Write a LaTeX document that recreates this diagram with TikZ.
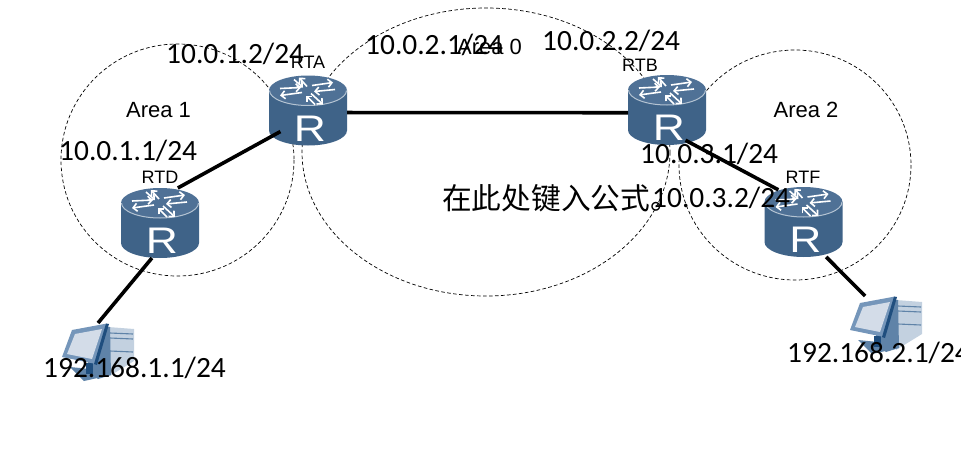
\documentclass[tikz,border=0pt]{standalone}
\usepackage{fontspec}
\setmainfont{Liberation Sans}
\newfontfamily\calibrifont{Carlito}
\newfontfamily\cjkfont{Noto Sans CJK SC}
\usetikzlibrary{arrows.meta}
\definecolor{rbody}{HTML}{3F6388}
\definecolor{rtop}{HTML}{4F7196}
\definecolor{rrim}{HTML}{B4C3D2}
\definecolor{hdark}{HTML}{1F4E7E}
\definecolor{hframe}{HTML}{7596BA}
\definecolor{hscreen}{HTML}{D3DCE8}
\definecolor{hside}{HTML}{5F83A8}
\definecolor{hfront}{HTML}{C3D1E0}
\tikzset{
  x=1pt,y=-1pt,
  area/.style={draw=black,line width=0.7pt,dash pattern=on 3.6pt off 2.4pt},
  link/.style={draw=black,line width=3.6pt},
  devicebox/.style={minimum width=78pt,minimum height=70pt,inner sep=0pt,outer sep=0pt},
  hostbox/.style={minimum width=72pt,minimum height=62pt,inner sep=0pt,outer sep=0pt},
  iplabel/.style={anchor=west,inner sep=0pt,font=\calibrifont\fontsize{29.4}{29.4}\selectfont},
  arealabel/.style={anchor=center,inner sep=0pt,font=\fontsize{22}{22}\selectfont},
  namelabel/.style={anchor=center,inner sep=0pt,font=\fontsize{18}{18}\selectfont},
  rarrow/.style={draw=white,line width=1.6pt,-{Straight Barb[length=4pt,width=8pt]}},
  pics/routericon/.style={code={
    \fill[rbody] (-39,-20) -- (-39,20) arc[start angle=180,end angle=0,x radius=39,y radius=15] -- (39,-20) -- cycle;
    \fill[rtop] (0,-20) ellipse[x radius=39,y radius=15];
    \draw[rrim,line width=1pt] (-38.5,-20) arc[start angle=180,end angle=0,x radius=38.5,y radius=15];
    \draw[rarrow] (-1,-24) -- (-9,-33);
    \draw[rarrow] (-14,-31) -- (-5,-23);
    \draw[rarrow] (4,-25) -- (25,-28);
    \draw[rarrow] (27,-21) -- (6,-19);
    \draw[rarrow] (3,-17) -- (15,-6);
    \draw[rarrow] (7,-6) -- (-2,-15);
    \draw[rarrow] (-6,-18) -- (-28,-15);
    \draw[rarrow] (-28,-22) -- (-7,-23);
    \node[text=white,inner sep=0pt,xscale=1.2,font=\fontsize{37}{37}\selectfont] at (2,18) {R};
  }},
  pics/hosticon/.style={code={
    % tower
    \fill[hfront] (46,4) -- (72,6) -- (72,38) -- (46,54) -- cycle;
    \fill[hside] (38,3) -- (48,4) -- (49,52) -- (36,56) -- (24,46) -- cycle;
    \draw[hside,line width=1.1pt] (48,10) -- (71,11) (48,15) -- (71,16) (48,28) -- (71,29);
    % stand
    \fill[hside] (8,44) -- (38,47) -- (40,54) -- (22,58) -- cycle;
    \fill[hdark] (24,40) -- (31,40) -- (31,51) -- (24,51) -- cycle;
    % monitor
    \fill[hframe] (10,7) -- (45,0.5) -- (34,41) -- (0,34) -- cycle;
    \fill[hdark] (44,0.5) -- (47,1) -- (35,42) -- (32,41) -- cycle;
    \fill[hscreen] (13,11) -- (40,6) -- (30,36) -- (5,31) -- cycle;
  }}
}
\begin{document}
\begin{tikzpicture}
\clip (0,0) rectangle (961,466);
\fill[white] (0,0) rectangle (961,466);
% areas
\draw[area] (177.5,160) ellipse[x radius=116.5,y radius=116];
\draw[area] (486,152) ellipse[x radius=184,y radius=144];
\draw[area] (795,165) ellipse[x radius=116,y radius=115];
% devices
\node[devicebox] (rta) at (308,110.5) {};
\node[devicebox] (rtb) at (667,110) {};
\node[devicebox] (rtd) at (160,223) {};
\node[devicebox] (rtf) at (803.5,222) {};
\node[hostbox] (hostd) at (98,354) {};
\node[hostbox] (hostf) at (886,327) {};
\pic at (rta) {routericon};
\pic at (rtb) {routericon};
\pic at (rtd) {routericon};
\pic at (rtf) {routericon};
% links
\draw[link] (rta.-3.7) -- (rtb.184.5);
\draw[link,shorten >=-13pt] (rtd.63) -- (rta.215);
\draw[link] (rtd.257) -- (hostd.north);
\draw[link,shorten <=-10pt,shorten >=-6pt] (rtb.-52) -- (rtf.131.5);
\draw[link] (rtf.-57) -- (hostf.124);
\pic at (hostd.north west) {hosticon};
\pic at (hostf.north west) {hosticon};
% labels
\node[namelabel] (lrta) at (308,62) {RTA};
\node[namelabel] (lrtb) at (640,65) {RTB};
\node[namelabel] (lrtd) at (160,177) {RTD};
\node[namelabel] (lrtf) at (803,177) {RTF};
\node[arealabel] (a0) at (489.5,47) {Area 0};
\node[arealabel] (a1) at (158.5,110) {Area 1};
\node[arealabel] (a2) at (806,110) {Area 2};
\node[anchor=west,inner sep=0pt,font=\cjkfont\fontsize{29.7}{30}\selectfont] (formula) at (442,198) {在此处键入公式。};
\node[iplabel] (i1) at (166,54) {10.0.1.2/24};
\node[iplabel] (i2) at (365,45) {10.0.2.1/24};
\node[iplabel] (i3) at (542,41) {10.0.2.2/24};
\node[iplabel] (i4) at (59,151) {10.0.1.1/24};
\node[iplabel] (i5) at (640,154) {10.0.3.1/24};
\node[iplabel] (i6) at (652,198) {10.0.3.2/24};
\node[iplabel] (i7) at (43,368) {192.168.1.1/24};
\node[iplabel] (i8) at (787,353) {192.168.2.1/24};
\end{tikzpicture}
\end{document}
